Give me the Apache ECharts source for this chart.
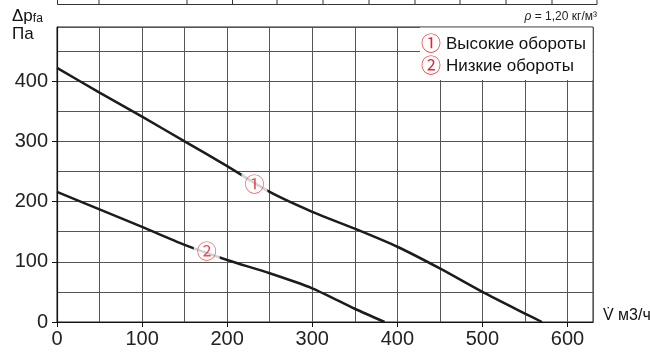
<!DOCTYPE html>
<html>
<head>
<meta charset="utf-8">
<script src="https://cdn.jsdelivr.net/npm/echarts@6/dist/echarts.min.js"></script>
<style>
  html, body { margin: 0; padding: 0; background: #fff; }
  #chart { width: 650px; height: 352px; }
</style>
</head>
<body>
<div id="chart"></div>
<script>
// high speed curve
const hiFlow = [0, 50, 100, 150, 200, 250, 300, 350, 400, 450, 500, 550, 570]
const hiPressure = [422, 381, 341, 300, 259, 216, 183, 155, 125, 89, 50, 14, 0]
// low speed curve
const loFlow = [0, 50, 100, 150, 200, 250, 300, 350, 385]
const loPressure = [216, 187, 158, 128, 103, 81, 56, 22, 0]
// curve markers
const markFlow = [232, 176]
const markPressure = [229, 118]
const markText = ['①', '②']
const legendNames = ['Высокие обороты', 'Низкие обороты']
const xTicks = [0, 100, 200, 300, 400, 500, 600]
const yTicks = [0, 100, 200, 300, 400]

const font = '"Liberation Sans", Arial, sans-serif'
const circFont = '"Noto Sans CJK JP", "DejaVu Sans", sans-serif'
const red = '#e3262f'
const ink = '#1c1c1c'

const chart = echarts.init(document.getElementById('chart'), null, { renderer: 'canvas' })

const pairs = (xs, ys) => xs.map((x, i) => [x, ys[i]])

// table fragment cut off at the top
const tableCols = [57.5, 99, 187, 232.5, 277, 323, 369, 415, 460, 506, 552, 597]
const topLines = tableCols.map(x => ({
  type: 'line', shape: { x1: x, y1: 0, x2: x, y2: 4.5 }, style: { stroke: '#333', lineWidth: 1 }
}))
topLines.push({ type: 'line', shape: { x1: 57.5, y1: 4.5, x2: 597, y2: 4.5 }, style: { stroke: '#333', lineWidth: 1 } })

const gridLine = { show: true, lineStyle: { color: '#555', width: 1 } }

chart.setOption({
  backgroundColor: '#fff',
  animation: false,
  grid: { left: 57, right: 57, top: 27, bottom: 30, show: true, borderColor: '#222', borderWidth: 1, backgroundColor: 'transparent' },
  xAxis: [{
    type: 'value', min: 0, max: 630, interval: 50,
    axisLine: { show: true, onZero: false, lineStyle: { color: '#111', width: 1.2 } },
    axisTick: { show: true, length: 5, customValues: xTicks, lineStyle: { color: '#111' } },
    axisLabel: { customValues: xTicks, margin: 7, color: '#222', fontSize: 20, fontFamily: font },
    splitLine: gridLine
  }, {
    // 50-step grid lines
    type: 'value', min: 0, max: 630, interval: 50, position: 'bottom',
    axisLine: { show: false }, axisTick: { show: false }, axisLabel: { show: false },
    splitLine: gridLine
  }],
  yAxis: [{
    type: 'value', min: 0, max: 490, interval: 50,
    axisLine: { show: true, onZero: false, lineStyle: { color: '#111', width: 1.2 } },
    axisTick: { show: true, length: 5, customValues: yTicks, lineStyle: { color: '#111' } },
    axisLabel: { customValues: yTicks, margin: 9, color: '#222', fontSize: 20, fontFamily: font },
    splitLine: gridLine
  }, {
    type: 'value', min: 0, max: 490, interval: 50, position: 'right',
    axisLine: { show: false }, axisTick: { show: false }, axisLabel: { show: false },
    splitLine: gridLine
  }],
  series: [
    {
      type: 'line', data: pairs(hiFlow, hiPressure), smooth: 0.25, showSymbol: false,
      lineStyle: { color: ink, width: 2.5 }, z: 3
    },
    {
      type: 'line', data: pairs(loFlow, loPressure), smooth: 0.25, showSymbol: false,
      lineStyle: { color: ink, width: 2.5 }, z: 3
    },
    {
      type: 'scatter', symbolSize: 0, z: 5,
      data: markFlow.map((x, i) => ({ value: [x, markPressure[i]], name: markText[i] })),
      label: {
        show: true, position: 'inside', formatter: p => p.name,
        color: red, fontSize: 20, fontFamily: circFont,
        backgroundColor: '#fff', padding: [0, 3], lineHeight: 20
      }
    }
  ],
  graphic: topLines.concat([
    { type: 'rect', shape: { x: 420, y: 27.5, width: 172.5, height: 52.5 }, style: { fill: '#fff' }, z: 10 },
    { type: 'text', x: 421, y: 43, z: 11, style: { text: markText[0], fill: red, font: '20px ' + circFont, verticalAlign: 'middle' } },
    { type: 'text', x: 446, y: 44, z: 11, style: { text: legendNames[0], fill: '#111', font: '17px ' + font, verticalAlign: 'middle' } },
    { type: 'text', x: 421, y: 65, z: 11, style: { text: markText[1], fill: red, font: '20px ' + circFont, verticalAlign: 'middle' } },
    { type: 'text', x: 446, y: 66, z: 11, style: { text: legendNames[1], fill: '#111', font: '17px ' + font, verticalAlign: 'middle' } },
    // axis names
    { type: 'text', x: 12, y: 7, z: 11, style: {
        text: '{a|Δp}{s|fa}\n{a|Па}', fill: '#111',
        rich: {
          a: { fontSize: 17, fontFamily: font, lineHeight: 18, fill: '#111' },
          s: { fontSize: 12, fontFamily: font, lineHeight: 18, verticalAlign: 'bottom', padding: [6, 0, 0, 0], fill: '#111' }
        }
    } },
    { type: 'text', x: 597, y: 17, z: 11, style: {
        text: '{g|ρ} = 1,20 кг/м³', fill: '#222', align: 'right', verticalAlign: 'middle',
        font: '12px ' + font,
        rich: { g: { fontStyle: 'italic', fontSize: 12, fontFamily: font, fill: '#222' } }
    } },
    { type: 'text', x: 603, y: 316, z: 11, style: { text: 'V̇ м3/ч', fill: '#111', font: '16px ' + font, verticalAlign: 'middle' } }
  ])
})
</script>
</body>
</html>
